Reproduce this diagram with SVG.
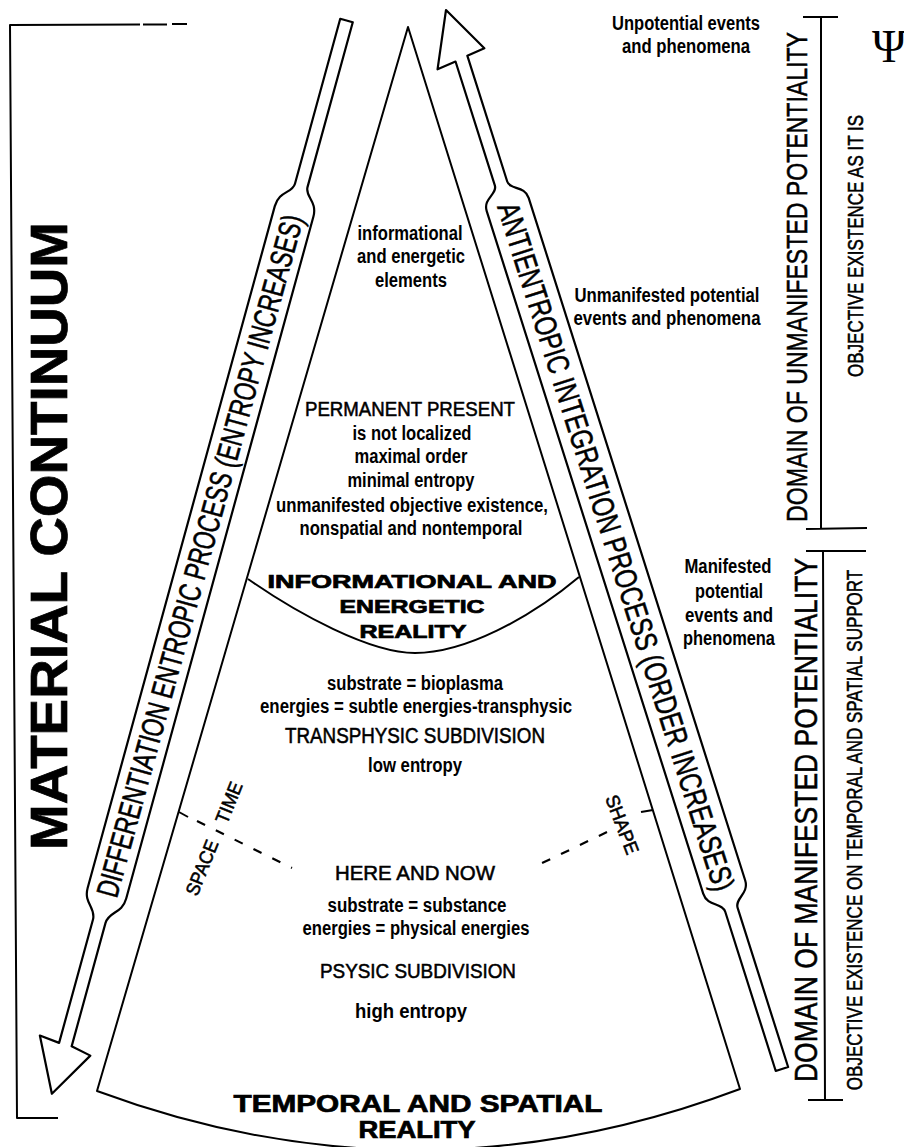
<svg xmlns="http://www.w3.org/2000/svg" width="904" height="1147" viewBox="0 0 904 1147">
<style>
.ln{fill:none;stroke:#000;stroke-width:2;stroke-linejoin:round}
.ar{fill:#fff;stroke:#000;stroke-width:2.2;stroke-linejoin:round}
.dash{fill:none;stroke:#000;stroke-width:2.2;stroke-dasharray:9 12}
.t{font-family:"Liberation Sans",Arial,sans-serif;fill:#000;text-anchor:middle}
.b{font-weight:bold}
.s{stroke:#000;stroke-width:0.55}
.x{font-family:"Liberation Sans",Arial,sans-serif;font-weight:bold;stroke:#000;stroke-width:0.7}
</style>
<rect width="904" height="1147" fill="#fff"/>

<g id="connectors">
  <path class="ln" d="M140,24.5 L10,25 L17,1118 L58,1118" stroke-width="2.5"/>
  <path class="ln" d="M143,24.5 L167,24.5 M172,24 L187,24"/>
  <path class="ln" d="M803,17 L838,17 M821,17 L821,528 M806,529 L867,528"/>
  <path class="ln" d="M806,551 L866,551 M823,551 L825,1100 M808,1100 L843,1100"/>
  <path class="ln" d="M179,812 L188,817"/>
  <path class="dash" d="M197,821 L292,868"/>
  <path class="ln" d="M641,812 L653,810"/>
  <path class="dash" d="M607,832 L536,866"/>
</g>

<g id="cone">
  <path class="ln" d="M97,1091 L408,27 L740,1089 Q418,1210 97,1091 Z" stroke-width="2.2"/>
  <path class="ln" d="M248,579 C298,614 370,653 415,653 C465,653 530,618 579,577" stroke-width="2.2"/>
</g>

<g id="left-arrow" transform="translate(346.5,20.5) rotate(15.35)">
  <path class="ar" d="M-6.5,0 L6.5,0 L6.5,171 C6.5,181 20,182 20,198 L20,905 C20,921 6.5,922 6.5,934 L6.5,1062 L27,1066 L0,1113 L-27,1060 L-6.5,1062 L-6.5,934 C-6.5,922 -20,921 -20,905 L-20,198 C-20,182 -6.5,181 -6.5,171 Z"/>
  <text class="t s" transform="translate(11,555) rotate(-90) scale(0.7256,1)" font-size="31" textLength="973" lengthAdjust="spacingAndGlyphs">DIFFERENTIATION ENTROPIC PROCESS (ENTROPY INCREASES)</text>
</g>

<g id="right-arrow" transform="translate(446,10) rotate(-17.6)">
  <path class="ar" d="M0,0 L25,48 L6.5,50 L6.5,182 C6.5,191 22,191 22,204 L22,920 C22,934 6.5,934 6.5,944 L6.5,1111 L-6.5,1111 L-6.5,944 C-6.5,934 -22,934 -22,920 L-22,204 C-22,191 -6.5,191 -6.5,182 L-6.5,52 L-26,54 Z"/>
  <text class="t s" transform="translate(-11,563) rotate(90) scale(0.766,1)" font-size="31" textLength="940" lengthAdjust="spacingAndGlyphs">ANTIENTROPIC INTEGRATION PROCESS (ORDER INCREASES)</text>
</g>

<g id="material-continuum">
  <text class="x" transform="translate(67,536) rotate(-90)" font-size="52" text-anchor="middle" stroke-width="1.4" textLength="628" lengthAdjust="spacingAndGlyphs">MATERIAL CONTINUUM</text>
</g>

<g id="top-elements">
  <text class="t b" x="410" y="240" font-size="20" textLength="105" lengthAdjust="spacingAndGlyphs">informational</text>
  <text class="t b" x="411" y="263" font-size="20" textLength="108" lengthAdjust="spacingAndGlyphs">and energetic</text>
  <text class="t b" x="411" y="287" font-size="20" textLength="72" lengthAdjust="spacingAndGlyphs">elements</text>
</g>

<g id="permanent-present">
  <text class="t s" x="410" y="416" font-size="21" textLength="210" lengthAdjust="spacingAndGlyphs">PERMANENT PRESENT</text>
  <text class="t b" x="412" y="440" font-size="20" textLength="119" lengthAdjust="spacingAndGlyphs">is not localized</text>
  <text class="t b" x="411" y="463" font-size="20" textLength="113" lengthAdjust="spacingAndGlyphs">maximal order</text>
  <text class="t b" x="411" y="487" font-size="20" textLength="127" lengthAdjust="spacingAndGlyphs">minimal entropy</text>
  <text class="t b" x="412" y="512" font-size="20" textLength="272" lengthAdjust="spacingAndGlyphs">unmanifested objective existence,</text>
  <text class="t b" x="411" y="535" font-size="20" textLength="223" lengthAdjust="spacingAndGlyphs">nonspatial and nontemporal</text>
</g>

<g id="info-energetic-reality">
  <text class="x" x="412" y="588" font-size="18" text-anchor="middle" textLength="289" lengthAdjust="spacingAndGlyphs">INFORMATIONAL AND</text>
  <text class="x" x="412" y="613" font-size="18" text-anchor="middle" textLength="145" lengthAdjust="spacingAndGlyphs">ENERGETIC</text>
  <text class="x" x="413" y="638" font-size="18" text-anchor="middle" textLength="107" lengthAdjust="spacingAndGlyphs">REALITY</text>
</g>

<g id="transphysic">
  <text class="t b" x="415" y="690" font-size="20" textLength="176" lengthAdjust="spacingAndGlyphs">substrate = bioplasma</text>
  <text class="t b" x="416" y="713" font-size="20" textLength="312" lengthAdjust="spacingAndGlyphs">energies = subtle energies-transphysic</text>
  <text class="t s" x="415" y="743" font-size="22" textLength="260" lengthAdjust="spacingAndGlyphs">TRANSPHYSIC SUBDIVISION</text>
  <text class="t b" x="415" y="772" font-size="20" textLength="94" lengthAdjust="spacingAndGlyphs">low entropy</text>
</g>

<g id="space-time-shape">
  <text class="t s" transform="translate(208,870) rotate(-68)" font-size="19" stroke-width="0.4" textLength="58" lengthAdjust="spacingAndGlyphs">SPACE</text>
  <text class="t s" transform="translate(235,805) rotate(-68)" font-size="19" stroke-width="0.4" textLength="43" lengthAdjust="spacingAndGlyphs">TIME</text>
  <text class="t s" transform="translate(616,827) rotate(69)" font-size="19" stroke-width="0.4" textLength="62" lengthAdjust="spacingAndGlyphs">SHAPE</text>
</g>

<g id="here-and-now">
  <text class="t s" x="415" y="880" font-size="21" textLength="160" lengthAdjust="spacingAndGlyphs">HERE AND NOW</text>
  <text class="t b" x="417" y="912" font-size="20" textLength="179" lengthAdjust="spacingAndGlyphs">substrate = substance</text>
  <text class="t b" x="416" y="935" font-size="20" textLength="227" lengthAdjust="spacingAndGlyphs">energies = physical energies</text>
  <text class="t s" x="418" y="978" font-size="21" textLength="196" lengthAdjust="spacingAndGlyphs">PSYSIC SUBDIVISION</text>
  <text class="t b" x="411" y="1018" font-size="20" textLength="112" lengthAdjust="spacingAndGlyphs">high entropy</text>
</g>

<g id="temporal-spatial-reality">
  <text class="x" x="418" y="1112" font-size="23" text-anchor="middle" textLength="369" lengthAdjust="spacingAndGlyphs">TEMPORAL AND SPATIAL</text>
  <text class="x" x="417" y="1138" font-size="23" text-anchor="middle" textLength="117" lengthAdjust="spacingAndGlyphs">REALITY</text>
</g>

<g id="unpotential">
  <text class="t b" x="686" y="30" font-size="20" textLength="148" lengthAdjust="spacingAndGlyphs">Unpotential events</text>
  <text class="t b" x="686" y="53" font-size="20" textLength="128" lengthAdjust="spacingAndGlyphs">and phenomena</text>
</g>

<g id="unmanifested">
  <text class="t b" x="667" y="302" font-size="20" textLength="185" lengthAdjust="spacingAndGlyphs">Unmanifested potential</text>
  <text class="t b" x="667" y="325" font-size="20" textLength="187" lengthAdjust="spacingAndGlyphs">events and phenomena</text>
</g>

<g id="manifested">
  <text class="t b" x="728" y="573" font-size="20" textLength="87" lengthAdjust="spacingAndGlyphs">Manifested</text>
  <text class="t b" x="729" y="598" font-size="20" textLength="68" lengthAdjust="spacingAndGlyphs">potential</text>
  <text class="t b" x="729" y="622" font-size="20" textLength="88" lengthAdjust="spacingAndGlyphs">events and</text>
  <text class="t b" x="729" y="645" font-size="20" textLength="92" lengthAdjust="spacingAndGlyphs">phenomena</text>
</g>

<g id="domain-unmanifested">
  <text class="t s" transform="translate(807,277) rotate(-90) scale(0.769,1)" font-size="30" textLength="637" lengthAdjust="spacingAndGlyphs">DOMAIN OF UNMANIFESTED POTENTIALITY</text>
  <text class="t s" transform="translate(863,246) rotate(-90) scale(0.768,1)" font-size="22" stroke-width="0.45" textLength="341" lengthAdjust="spacingAndGlyphs">OBJECTIVE EXISTENCE AS IT IS</text>
</g>

<g id="domain-manifested">
  <text class="t s" transform="translate(817,820) rotate(-90) scale(0.828,1)" font-size="32" textLength="633" lengthAdjust="spacingAndGlyphs">DOMAIN OF MANIFESTED POTENTIALITY</text>
  <text class="t s" transform="translate(862,830) rotate(-90) scale(0.764,1)" font-size="22" stroke-width="0.45" textLength="681" lengthAdjust="spacingAndGlyphs">OBJECTIVE EXISTENCE ON TEMPORAL AND SPATIAL SUPPORT</text>
</g>

<g id="psi">
  <text x="889" y="62" font-family="Liberation Serif, serif" font-size="46" text-anchor="middle">Ψ</text>
</g>
</svg>
